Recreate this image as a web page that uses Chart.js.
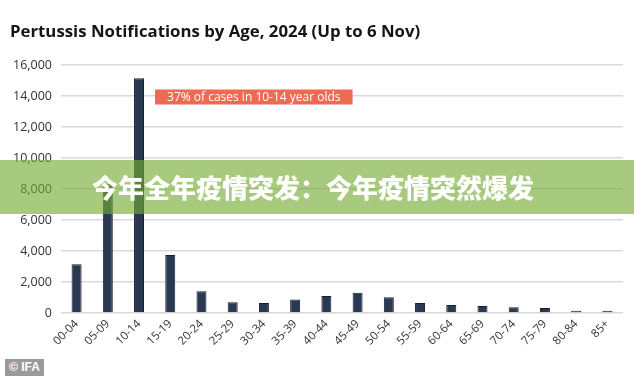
<!DOCTYPE html>
<html>
<head>
<meta charset="utf-8">
<script src="https://cdn.jsdelivr.net/npm/chart.js@4.4.1/dist/chart.umd.min.js"></script>
<style>
  html, body { margin: 0; padding: 0; background: #fff; }
  #wrap { position: relative; width: 634px; height: 376px; overflow: hidden; }
  #title {
    position: absolute; left: 10px; top: 20px; font-family: "Open Sans", sans-serif;
    font-weight: 700; font-size: 16.8px; color: #151515; white-space: nowrap; line-height: 22px;
  }
  #banner {
    position: absolute; left: 0; top: 160px; width: 634px; height: 54px;
    background: rgba(117,171,50,0.63);
    color: #fff; font-family: "Noto Sans CJK SC", sans-serif; font-weight: 900;
    font-size: 26px; line-height: 54px; text-align: center; text-indent: -8px;
  }
  #wm {
    position: absolute; left: 5px; top: 359px; width: 39px; height: 17px;
    background: #9a9a9a; color: #fff; font-family: "Liberation Sans", Arial, sans-serif;
    font-weight: bold; font-size: 12px; line-height: 17px; text-align: center;
  }
</style>
</head>
<body>
<div id="wrap">
  <canvas id="c" width="634" height="376"></canvas>
  <div id="title"></div>
  <div id="banner">今年全年疫情突发：今年疫情突然爆发</div>
  <div id="wm">© IFA</div>
</div>
<script>
const categories = ["00-04","05-09","10-14","15-19","20-24","25-29","30-34","35-39","40-44","45-49","50-54","55-59","60-64","65-69","70-74","75-79","80-84","85+"];
const notifications = [3150, 8300, 15150, 3750, 1400, 700, 650, 870, 1100, 1300, 1020, 650, 520, 455, 370, 325, 150, 140];
const titleText = "Pertussis Notifications by Age, 2024 (Up to 6 Nov)";
const annotationText = "37% of cases in 10-14 year olds";
const annotationCategoryIndex = 2;
const annotationValue = 14000;

document.getElementById('title').textContent = titleText;

const annotationPlugin = {
  id: 'noteBox',
  afterDatasetsDraw(chart) {
    const ctx = chart.ctx;
    const xs = chart.scales.x, ys = chart.scales.y;
    const x0 = xs.getPixelForValue(annotationCategoryIndex) + 16;
    const yc = ys.getPixelForValue(annotationValue) + 1;
    ctx.save();
    ctx.font = '12px "Open Sans", sans-serif';
    const w = ctx.measureText(annotationText).width + 24;
    const h = 15;
    ctx.fillStyle = '#EE6A52';
    ctx.fillRect(x0, yc - h / 2, w, h);
    ctx.fillStyle = '#fff';
    ctx.textBaseline = 'middle';
    ctx.textAlign = 'center';
    ctx.fillText(annotationText, x0 + w / 2, yc + 0.5);
    ctx.restore();
  }
};

new Chart(document.getElementById('c'), {
  type: 'bar',
  data: {
    labels: categories,
    datasets: [{
      data: notifications,
      backgroundColor: '#2A3953',
      borderColor: '#18202e',
      borderWidth: 1,
      barPercentage: 0.32,
      categoryPercentage: 1.0
    }]
  },
  options: {
    responsive: false,
    animation: false,
    layout: { padding: { left: 4, right: 11, top: 65, bottom: 24 } },
    plugins: {
      legend: { display: false },
      tooltip: { enabled: false },
      title: { display: false }
    },
    scales: {
      x: {
        grid: { display: false, drawTicks: false },
        border: { display: false },
        ticks: {
          color: '#333',
          font: { family: '"Open Sans", sans-serif', size: 11.5 },
          minRotation: 45, maxRotation: 45, padding: 4, autoSkip: false
        }
      },
      y: {
        min: 0, max: 16000,
        grid: { color: '#d9d9d9', lineWidth: 1.5, drawTicks: false },
        border: { display: false },
        ticks: {
          stepSize: 2000,
          color: '#333',
          padding: 9,
          font: { family: '"Open Sans", sans-serif', size: 12.5 },
          callback: v => v.toLocaleString('en-US')
        }
      }
    }
  },
  plugins: [annotationPlugin]
});
</script>
</body>
</html>
